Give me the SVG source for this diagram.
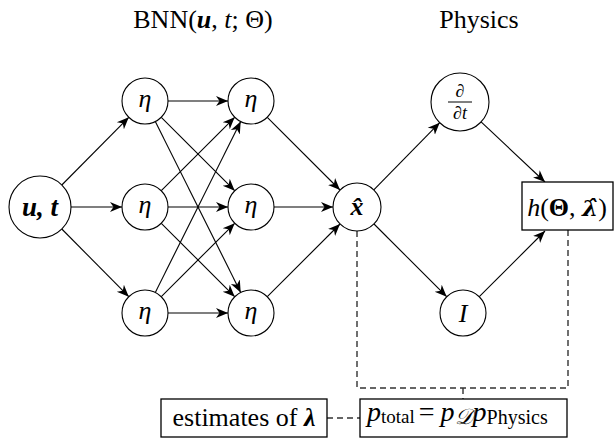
<svg xmlns="http://www.w3.org/2000/svg" width="614" height="443" viewBox="0 0 614 443">
<defs>
<marker id="arr" markerUnits="userSpaceOnUse" markerWidth="14" markerHeight="12" viewBox="-12 -6 14 12" refX="0" refY="0" orient="auto">
<path d="M0,0 L-12,-5 L-8.5,0 L-12,5 Z" fill="#000"/>
</marker>
</defs>
<style>
text{font-family:"Liberation Serif","Times New Roman",serif;font-size:26px;fill:#000}
.c{text-anchor:middle}
.i{font-style:italic;font-family:"Liberation Serif","DejaVu Serif",serif}
.b{font-weight:bold}
.node circle{fill:#fff;stroke:#000;stroke-width:1.1}
.node rect{fill:#fff;stroke:#000;stroke-width:1.3}
#edges line{stroke:#000;stroke-width:1.1;marker-end:url(#arr)}
#dashes path{fill:none;stroke:#333;stroke-width:1.4;stroke-dasharray:6 4}
</style>
<g id="titles">
<text class="c" x="203" y="28">BNN(<tspan class="b i">u</tspan>, <tspan class="i">t</tspan>; Θ)</text>
<text class="c" x="479" y="28">Physics</text>
</g>
<g id="dashes">
<path d="M357,231 V388 H568 V230"/>
<path d="M463,388 V399"/>
<path d="M327,418 H360"/>
</g>
<g id="edges">
<line x1="61.8" y1="185" x2="128.8" y2="117.3"/>
<line x1="71" y1="207" x2="122" y2="207"/>
<line x1="61.8" y1="229" x2="128.8" y2="296.7"/>
<line x1="168" y1="101" x2="228" y2="101"/>
<line x1="168" y1="207" x2="228" y2="207"/>
<line x1="168" y1="313" x2="228" y2="313"/>
<line x1="161.3" y1="117.3" x2="234.7" y2="190.7"/>
<line x1="161.3" y1="223.3" x2="234.7" y2="296.7"/>
<line x1="161.3" y1="190.7" x2="234.7" y2="117.3"/>
<line x1="161.3" y1="296.7" x2="234.7" y2="223.3"/>
<line x1="155.3" y1="121.6" x2="240.7" y2="292.4"/>
<line x1="155.3" y1="292.4" x2="240.7" y2="121.6"/>
<line x1="267.3" y1="117.3" x2="340" y2="190"/>
<line x1="274" y1="207" x2="333" y2="207"/>
<line x1="267.3" y1="296.7" x2="340" y2="224"/>
<line x1="373.8" y1="189.9" x2="439.7" y2="122.7"/>
<line x1="374" y1="224" x2="446.7" y2="296.7"/>
<line x1="481.1" y1="121.9" x2="545" y2="182"/>
<line x1="479.3" y1="296.7" x2="545" y2="231"/>
</g>
<g id="n-in" class="node"><circle cx="40" cy="207" r="31"/><text class="c b i" x="40" y="216" style="font-size:27px">u, t</text></g>
<g id="n-a1" class="node"><circle cx="145" cy="101" r="23"/><text class="c i" x="145" y="107">η</text></g>
<g id="n-a2" class="node"><circle cx="145" cy="207" r="23"/><text class="c i" x="145" y="213">η</text></g>
<g id="n-a3" class="node"><circle cx="145" cy="313" r="23"/><text class="c i" x="145" y="319">η</text></g>
<g id="n-b1" class="node"><circle cx="251" cy="101" r="23"/><text class="c i" x="251" y="107">η</text></g>
<g id="n-b2" class="node"><circle cx="251" cy="207" r="23"/><text class="c i" x="251" y="213">η</text></g>
<g id="n-b3" class="node"><circle cx="251" cy="313" r="23"/><text class="c i" x="251" y="319">η</text></g>
<g id="n-xhat" class="node"><circle cx="357" cy="207" r="24"/><text class="c b i" x="357" y="215">x̂</text></g>
<g id="n-dt" class="node"><circle cx="460" cy="102" r="29"/>
<text class="c i" x="460" y="97" style="font-size:18px">∂</text>
<line x1="448" y1="102" x2="472" y2="102" stroke="#000" stroke-width="1"/>
<text class="c" x="460" y="119" style="font-size:18px">∂<tspan class="i">t</tspan></text></g>
<g id="n-I" class="node"><circle cx="463" cy="313" r="23"/><text class="c i" x="463" y="322">I</text></g>
<g id="n-h" class="node"><rect x="522" y="182" width="91" height="48"/>
<text class="c" x="567" y="216"><tspan class="i">h</tspan>(<tspan class="b">Θ</tspan>, <tspan class="b i" style="font-family:'DejaVu Serif',serif;font-size:23px">λ̂</tspan>)</text></g>
<g id="n-est" class="node"><rect x="161" y="399" width="166" height="38"/><text class="c" x="244" y="426">estimates of <tspan class="b i">λ</tspan></text></g>
<g id="n-ptot" class="node"><rect x="360" y="399" width="207" height="38"/>
<text x="367" y="421" style="font-size:28px"><tspan class="i">p</tspan><tspan dy="2" style="font-size:19px">total</tspan><tspan dy="-2" dx="4">=</tspan><tspan dx="6" class="i">p</tspan><tspan dy="3" style="font-size:22px" class="i">𝒟</tspan><tspan dy="-3" class="i">p</tspan><tspan dy="3" style="font-size:20px">Physics</tspan></text></g>
</svg>
